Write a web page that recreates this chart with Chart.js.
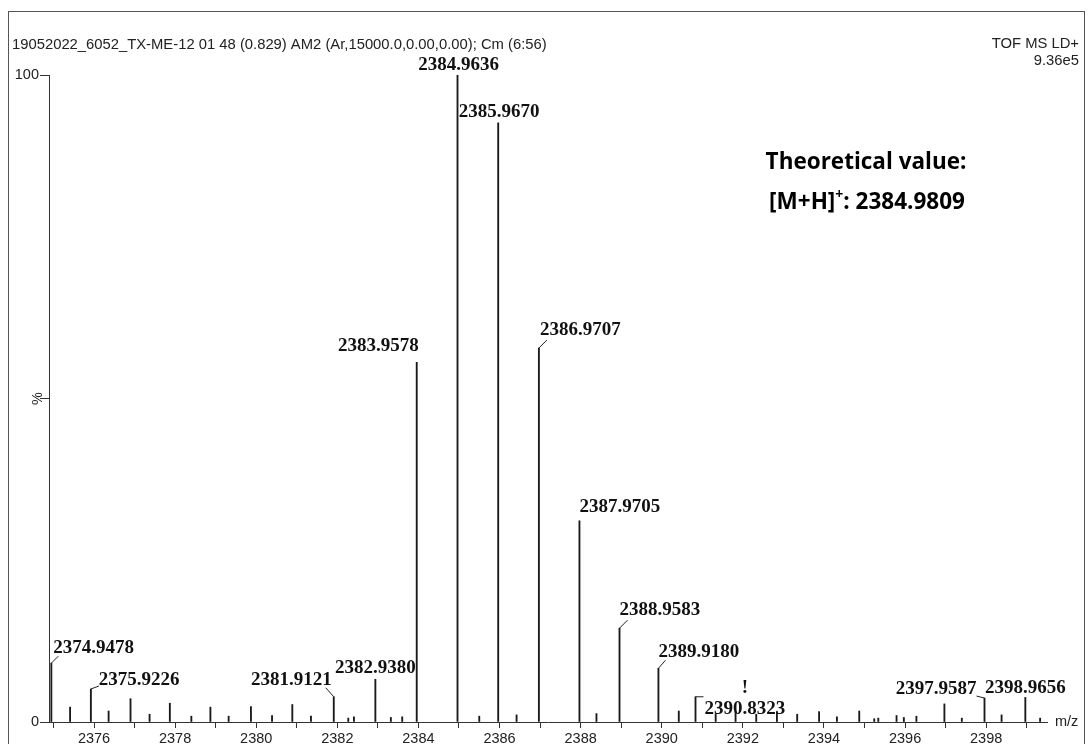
<!DOCTYPE html>
<html lang="en">
<head>
<meta charset="UTF-8">
<title>TOF MS LD+ spectrum</title>
<script src="https://cdn.jsdelivr.net/npm/chart.js"></script>
<style>
  html, body { margin: 0; padding: 0; background: #fff; }
  #wrap { width: 1088px; height: 744px; }
</style>
</head>
<body>
<div id="wrap"><canvas id="myChart" width="1088" height="744"></canvas></div>
<script>
// peak list, m/z and relative intensity (%)
const mzValues = [
  2374.9478, 2375.41, 2375.9226, 2376.36, 2376.90, 2377.37, 2377.87, 2378.40, 2378.87,
  2379.32, 2379.87, 2380.39, 2380.89, 2381.35, 2381.9121, 2382.27, 2382.41, 2382.9380,
  2383.32, 2383.60, 2383.9578, 2384.9636, 2385.50, 2385.9670, 2386.42, 2386.9707,
  2387.9705, 2388.39, 2388.9583, 2389.9180, 2390.42, 2390.8323, 2391.33, 2391.82,
  2392.33, 2392.84, 2393.34, 2393.88, 2394.32, 2394.87, 2395.24, 2395.34, 2395.79,
  2395.97, 2396.28, 2396.97, 2397.40, 2397.9587, 2398.38, 2398.9656, 2399.33
];
const intensity = [
  9.1, 2.3, 5.1, 1.7, 3.6, 1.2, 2.9, 0.9, 2.3,
  0.9, 2.4, 1.0, 2.7, 0.9, 3.9, 0.6, 0.8, 6.6,
  0.7, 0.8, 55.6, 100, 0.9, 92.6, 1.1, 57.8,
  31.1, 1.3, 14.5, 8.3, 1.7, 3.9, 1.2, 1.7,
  1.2, 1.6, 1.2, 1.6, 0.8, 1.7, 0.5, 0.6, 1.0,
  0.7, 0.9, 2.8, 0.6, 3.7, 1.1, 3.8, 0.6
];
const peakLabels = [
  '2374.9478', '2375.9226', '2381.9121', '2382.9380', '2383.9578', '2384.9636', '2385.9670',
  '2386.9707', '2387.9705', '2388.9583', '2389.9180', '2390.8323', '2397.9587', '2398.9656'
];
const xTicks = [2375, 2376, 2377, 2378, 2379, 2380, 2381, 2382, 2383, 2384, 2385, 2386, 2387,
  2388, 2389, 2390, 2391, 2392, 2393, 2394, 2395, 2396, 2397, 2398, 2399];
const xTickLabels = [2376, 2378, 2380, 2382, 2384, 2386, 2388, 2390, 2392, 2394, 2396, 2398];
const yTicks = [0, 50, 100];
const yTickLabels = { 0: '0', 100: '100' };

const headerLeft = '19052022_6052_TX-ME-12 01 48 (0.829) AM2 (Ar,15000.0,0.00,0.00); Cm (6:56)';
const headerRight = ['TOF MS LD+', '9.36e5'];

// where each peak label sits relative to its peak top
const labelPlace = {
  '2374.9478': { align: 'left', dx: 2, dy: -15, link: [7, -7] },
  '2375.9226': { align: 'left', dx: 8, dy: -9, link: [8, -3] },
  '2381.9121': { align: 'right', dx: -2, dy: -17, link: [-8, -9] },
  '2382.9380': { align: 'center', dx: 0, dy: -11 },
  '2383.9578': { align: 'right', dx: 2, dy: -16 },
  '2384.9636': { align: 'center', dx: 1, dy: -10 },
  '2385.9670': { align: 'center', dx: 1, dy: -11 },
  '2386.9707': { align: 'left', dx: 1, dy: -18, link: [8, -8] },
  '2387.9705': { align: 'left', dx: 0, dy: -14 },
  '2388.9583': { align: 'left', dx: 0, dy: -18, link: [8, -8] },
  '2389.9180': { align: 'left', dx: 0, dy: -16, link: [7, -8] },
  '2390.8323': { align: 'left', dx: 9, dy: 12, link: [8, 0], mark: '!' },
  '2397.9587': { align: 'right', dx: -8, dy: -9, link: [-8, -2] },
  '2398.9656': { align: 'center', dx: 0, dy: -9 }
};

const sans = '"Liberation Sans", Arial, sans-serif';
const serif = '"Liberation Serif", "Times New Roman", serif';
const note = '"Open Sans", "Noto Sans", sans-serif';

const extras = {
  id: 'extras',
  beforeDraw(chart) {
    const ctx = chart.ctx;
    ctx.save();
    ctx.strokeStyle = '#555';
    ctx.lineWidth = 1;
    ctx.strokeRect(8.5, 11.5, 1076, 800);
    ctx.restore();
  },
  afterDatasetsDraw(chart) {
    const ctx = chart.ctx;
    const bars = chart.getDatasetMeta(0).data;
    ctx.save();
    ctx.fillStyle = '#111';
    ctx.strokeStyle = '#222';
    ctx.lineWidth = 1;
    ctx.font = 'bold 19px ' + serif;
    ctx.textBaseline = 'middle';
    peakLabels.forEach(lbl => {
      const i = mzValues.indexOf(parseFloat(lbl));
      if (i < 0) return;
      const p = labelPlace[lbl];
      const x = bars[i].x, top = bars[i].y;
      if (p.link) {
        ctx.beginPath();
        ctx.moveTo(x, top);
        ctx.lineTo(x + p.link[0], top + p.link[1]);
        ctx.stroke();
      }
      ctx.textAlign = p.align;
      ctx.fillText(lbl, x + p.dx, top + p.dy);
      if (p.mark) {
        const w = ctx.measureText(lbl).width;
        ctx.textAlign = 'center';
        ctx.fillText(p.mark, x + p.dx + w / 2, top + p.dy - 21);
      }
    });
    ctx.restore();
  },
  afterDraw(chart) {
    const ctx = chart.ctx;
    const area = chart.chartArea;
    ctx.save();
    ctx.fillStyle = '#222';
    ctx.textBaseline = 'middle';
    ctx.font = '14.8px ' + sans;
    ctx.textAlign = 'left';
    ctx.fillText(headerLeft, 12, 45);
    ctx.textAlign = 'right';
    ctx.fillText(headerRight[0], 1079, 44);
    ctx.fillText(headerRight[1], 1079, 61);

    ctx.font = '14.5px ' + sans;
    ctx.textAlign = 'left';
    ctx.fillText('m/z', 1055, area.bottom);

    const yMid = chart.scales.y.getPixelForValue(50);
    ctx.translate(38, yMid);
    ctx.rotate(-Math.PI / 2);
    ctx.textAlign = 'center';
    ctx.fillText('%', 0, 0);
    ctx.setTransform(1, 0, 0, 1, 0, 0);

    // theoretical value note
    ctx.fillStyle = '#000';
    ctx.font = 'bold 22.5px ' + note;
    ctx.textAlign = 'center';
    ctx.fillText('Theoretical value:', 866, 163);
    const partA = '[M+H]', partB = ': 2384.9809';
    const wA = ctx.measureText(partA).width, wB = ctx.measureText(partB).width;
    ctx.font = 'bold 14px ' + note;
    const wS = ctx.measureText('+').width;
    const x0 = 867 - (wA + wS + wB) / 2;
    ctx.textAlign = 'left';
    ctx.fillText('+', x0 + wA, 195);
    ctx.font = 'bold 22.5px ' + note;
    ctx.fillText(partA, x0, 203);
    ctx.fillText(partB, x0 + wA + wS, 203);
    ctx.restore();
  }
};

const ctx = document.getElementById('myChart').getContext('2d');
const myChart = new Chart(ctx, {
  type: 'bar',
  data: {
    datasets: [{
      data: mzValues.map((m, i) => ({ x: m, y: intensity[i] })),
      backgroundColor: '#1a1a1a',
      barThickness: 1.2,
      grouped: false
    }]
  },
  options: {
    responsive: false,
    devicePixelRatio: 1,
    animation: false,
    layout: { padding: { left: 8, right: 41, top: 75, bottom: 0 } },
    plugins: { legend: { display: false }, tooltip: { enabled: false } },
    scales: {
      x: {
        type: 'linear',
        min: 2374.89,
        max: 2399.5,
        offset: false,
        afterBuildTicks: s => { s.ticks = xTicks.map(v => ({ value: v })); },
        afterFit: s => { s.height = 22; },
        border: { display: true, color: '#333', width: 1 },
        grid: { offset: false, drawOnChartArea: false, drawTicks: true, tickLength: 6, color: '#333' },
        ticks: {
          autoSkip: false, maxRotation: 0, padding: 2, color: '#222',
          font: { family: sans, size: 14.5 },
          callback: v => xTickLabels.includes(v) ? String(v) : ''
        }
      },
      y: {
        min: 0,
        max: 100,
        afterBuildTicks: s => { s.ticks = yTicks.map(v => ({ value: v })); },
        afterFit: s => { s.width = 41; },
        border: { display: true, color: '#333', width: 1 },
        grid: { drawOnChartArea: false, drawTicks: true, tickLength: 9, color: '#333' },
        ticks: {
          padding: 1, color: '#222',
          font: { family: sans, size: 14.5 },
          callback: v => yTickLabels[v] || ''
        }
      }
    }
  },
  plugins: [extras]
});
</script>
</body>
</html>
